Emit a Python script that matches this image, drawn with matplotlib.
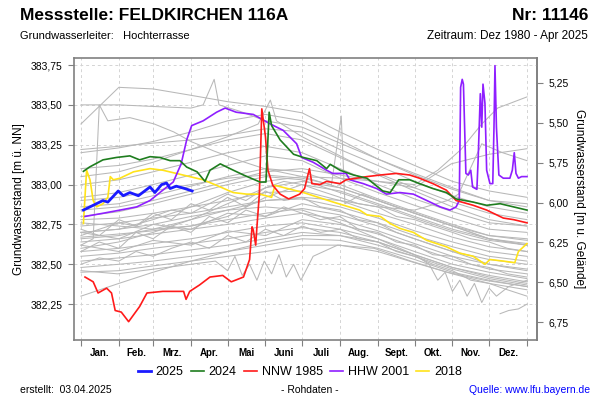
import matplotlib
matplotlib.use("Agg")
import matplotlib.pyplot as plt

plt.rcParams["font.family"] = ["Liberation Sans", "DejaVu Sans"]

# ground level used for the right-hand axis (m ü. NN)
GROUND = 388.8875

MONTH_EDGES = [0, 31, 59, 90, 120, 151, 181, 212, 243, 273, 304, 334, 365]
MONTH_LABELS = ["Jan.", "Feb.", "Mrz.", "Apr.", "Mai", "Juni", "Juli",
                "Aug.", "Sept.", "Okt.", "Nov.", "Dez."]
HALF_MONTHS = [0, 15, 31, 45, 59, 74, 90, 105, 120, 135, 151, 166, 181, 196, 212,
               227, 243, 258, 273, 288, 304, 319, 334, 349, 365]

LEVEL_TICKS = [382.25, 382.50, 382.75, 383.00, 383.25, 383.50, 383.75]
DEPTH_TICKS = [5.25, 5.50, 5.75, 6.00, 6.25, 6.50, 6.75]

# other years (grey), monthly values at MONTH_EDGES
GRAY_YEARS = [
    [383.38, 383.61, 383.60, 383.56, 383.52, 383.49, 383.45, 383.33, 383.22, 383.12, 383.02, 382.96, 382.92],
    [383.20, 383.23, 383.27, 383.33, 383.40, 383.44, 383.40, 383.28, 383.16, 383.06, 382.97, 382.90, 382.88],
    [383.22, 383.24, 383.26, 383.28, 383.31, 383.35, 383.33, 383.22, 383.12, 383.02, 382.93, 382.86, 382.82],
    [383.10, 383.12, 383.16, 383.22, 383.28, 383.32, 383.28, 383.17, 383.07, 382.98, 382.89, 382.82, 382.78],
    [383.00, 383.03, 383.08, 383.14, 383.20, 383.24, 383.20, 383.10, 383.00, 382.91, 382.83, 382.76, 382.74],
    [382.92, 382.95, 383.00, 383.06, 383.12, 383.18, 383.15, 383.04, 382.95, 382.87, 382.79, 382.72, 382.70],
    [382.86, 382.88, 382.93, 382.99, 383.05, 383.10, 383.08, 383.00, 382.91, 382.83, 382.75, 382.68, 382.66],
    [382.80, 382.83, 382.88, 382.94, 383.00, 383.05, 383.03, 382.95, 382.87, 382.79, 382.71, 382.65, 382.62],
    [382.78, 382.79, 382.82, 382.86, 382.90, 382.95, 382.96, 382.90, 382.82, 382.75, 382.67, 382.61, 382.58],
    [382.74, 382.76, 382.79, 382.82, 382.86, 382.90, 382.91, 382.86, 382.79, 382.71, 382.64, 382.58, 382.55],
    [382.70, 382.66, 382.75, 382.72, 382.82, 382.80, 382.88, 382.83, 382.76, 382.68, 382.61, 382.55, 382.52],
    [382.67, 382.69, 382.71, 382.74, 382.78, 382.82, 382.85, 382.81, 382.74, 382.66, 382.58, 382.53, 382.50],
    [382.64, 382.66, 382.69, 382.72, 382.75, 382.79, 382.82, 382.78, 382.71, 382.63, 382.55, 382.50, 382.47],
    [382.62, 382.58, 382.65, 382.62, 382.71, 382.68, 382.78, 382.75, 382.69, 382.61, 382.53, 382.47, 382.44],
    [382.58, 382.60, 382.63, 382.66, 382.70, 382.74, 382.76, 382.72, 382.66, 382.58, 382.50, 382.45, 382.41],
    [382.55, 382.57, 382.60, 382.63, 382.66, 382.70, 382.73, 382.70, 382.64, 382.56, 382.48, 382.43, 382.39],
    [382.52, 382.54, 382.56, 382.59, 382.62, 382.66, 382.70, 382.68, 382.62, 382.55, 382.47, 382.41, 382.37],
    [382.48, 382.50, 382.52, 382.55, 382.58, 382.62, 382.66, 382.65, 382.60, 382.53, 382.45, 382.40, 382.36],
    [382.45, 382.46, 382.49, 382.52, 382.55, 382.58, 382.62, 382.62, 382.58, 382.51, 382.44, 382.38, 382.34],
    [382.30, 382.38, 382.45, 382.52, 382.58, 382.64, 382.68, 382.68, 382.64, 382.56, 382.48, 382.42, 382.38],
    [382.76, 382.74, 382.72, 382.74, 382.80, 382.92, 383.00, 382.96, 382.88, 382.80, 382.72, 382.66, 382.63],
    [382.60, 382.64, 382.70, 382.78, 382.88, 382.98, 383.02, 382.98, 382.90, 382.82, 382.74, 382.68, 382.65],
]

# grey years with weekly-ish wobble, values at HALF_MONTHS
GRAY_WOBBLY = [
    [382.58, 382.64, 382.60, 382.70, 382.66, 382.74, 382.70, 382.80, 382.76, 382.84, 382.80, 382.86, 382.82,
     382.78, 382.80, 382.72, 382.70, 382.64, 382.62, 382.56, 382.55, 382.50, 382.48, 382.44, 382.42],
    [382.72, 382.68, 382.78, 382.74, 382.82, 382.78, 382.88, 382.84, 382.92, 382.86, 382.96, 382.90, 382.92,
     382.86, 382.84, 382.78, 382.76, 382.70, 382.66, 382.62, 382.58, 382.54, 382.50, 382.48, 382.46],
    [382.50, 382.54, 382.52, 382.58, 382.55, 382.60, 382.64, 382.60, 382.68, 382.64, 382.72, 382.68, 382.74,
     382.70, 382.72, 382.66, 382.64, 382.58, 382.55, 382.50, 382.46, 382.40, 382.38, 382.34, 382.30],
    [382.68, 382.72, 382.76, 382.74, 382.80, 382.84, 382.82, 382.88, 382.94, 382.90, 382.98, 383.02, 383.00,
     382.96, 382.92, 382.88, 382.86, 382.80, 382.78, 382.74, 382.70, 382.66, 382.64, 382.60, 382.58],
]

# grey years with spikes or a different course, own day lists
GRAY_EXTRA_DAYS = [
    [0, 10, 15, 22, 40, 60, 76, 90, 109, 130, 150, 181, 212, 243, 273, 304, 334, 365],
    [0, 31, 59, 90, 100, 109, 113, 130, 151, 181, 212, 243, 273, 304, 334, 365],
    [0, 31, 59, 90, 120, 151, 181, 205, 213, 216, 230, 243, 273, 304, 334, 365],
    [0, 31, 59, 90, 120, 145, 155, 160, 181, 212, 243, 273, 304, 334, 365],
    [0, 30, 60, 90, 110, 120, 126, 132, 138, 144, 150, 156, 162, 168, 174, 180, 190, 210, 240, 270, 300, 330, 365],
    [0, 31, 59, 90, 120, 151, 181, 212, 243, 273, 285, 292, 298, 304, 310, 316, 322, 328, 334, 340, 350, 365],
    [0, 31, 59, 90, 120, 151, 181, 212, 243, 273, 292, 311, 328, 341, 365],
    [0, 31, 59, 90, 120, 151, 181, 212, 243, 273, 303, 334, 365],
    [0, 31, 59, 90, 120, 151, 181, 212, 243, 273, 300, 309, 328, 345, 365],
    [343, 350, 358, 365],
]
GRAY_EXTRA_LEVELS = [
    [382.62, 382.66, 383.50, 383.40, 383.42, 383.38, 383.33, 383.27, 383.21, 383.15, 383.10, 383.05, 382.98, 382.90, 382.82, 382.74, 382.66, 382.62],
    [383.50, 383.50, 383.49, 383.48, 383.50, 383.66, 383.50, 383.46, 383.40, 383.36, 383.26, 383.16, 383.07, 382.98, 382.90, 382.86],
    [382.90, 382.92, 382.96, 383.00, 383.04, 383.06, 383.04, 383.00, 383.43, 382.88, 382.94, 382.90, 382.82, 382.74, 382.66, 382.62],
    [383.05, 383.08, 383.14, 383.22, 383.30, 383.38, 383.53, 383.40, 383.30, 383.18, 383.06, 382.96, 382.86, 382.78, 382.74],
    [382.46, 382.44, 382.47, 382.50, 382.52, 382.46, 382.55, 382.43, 382.50, 382.40, 382.52, 382.44, 382.56, 382.42, 382.50, 382.40, 382.55, 382.62, 382.60, 382.52, 382.45, 382.40, 382.36],
    [382.70, 382.72, 382.75, 382.80, 382.84, 382.86, 382.84, 382.76, 382.66, 382.56, 382.50, 382.40, 382.45, 382.33, 382.40, 382.30, 382.38, 382.26, 382.35, 382.30, 382.36, 382.40],
    [382.70, 382.72, 382.78, 382.86, 382.95, 383.02, 383.05, 383.04, 383.02, 383.00, 383.09, 383.22, 383.38, 383.48, 383.55],
    [382.84, 382.86, 382.90, 382.96, 383.02, 383.08, 383.10, 383.06, 383.02, 382.98, 383.13, 383.19, 383.225],
    [382.66, 382.68, 382.72, 382.78, 382.84, 382.90, 382.92, 382.90, 382.86, 382.84, 382.90, 382.94, 383.256, 383.20, 383.15],
    [382.19, 382.21, 382.22, 382.25],
]

# highlighted years
Y2025_DAYS = [2, 10, 18, 22, 30.5, 34.6, 40, 47, 56.5, 60.5, 66, 70, 73, 78, 85, 91]
Y2025_LEVELS = [382.84, 382.87, 382.90, 382.89, 382.96, 382.93, 382.95, 382.93, 382.985, 382.95, 383.00, 383.01, 382.975, 382.99, 382.975, 382.96]

Y2024_DAYS = [2, 7, 18, 29, 40, 48, 56.5, 64.6, 73, 81, 86.5, 95, 101.5, 105.6, 114, 122, 133, 146.5, 151.4,
              154, 156, 163, 174, 182, 193, 201, 204, 212, 223, 234, 247, 253, 260, 269, 277, 288, 299, 307,
              321, 332, 343, 354, 365]
Y2024_LEVELS = [383.083, 383.11, 383.155, 383.17, 383.18, 383.155, 383.175, 383.17, 383.15, 383.15, 383.11, 383.08,
                383.02, 383.09, 383.13, 383.10, 383.06, 383.016, 383.016, 383.454, 383.37, 383.28, 383.19, 383.17,
                383.15, 383.10, 383.127, 383.09, 383.06, 383.04, 382.96, 382.95, 383.03, 383.03, 383.006, 382.975,
                382.95, 382.91, 382.89, 382.87, 382.88, 382.86, 382.84]

NNW1985_DAYS = [3.3, 10, 14, 21, 25, 28, 33, 39, 48, 54, 67, 84, 86, 89, 97, 105.6, 116, 123, 133, 138, 140, 141,
                143, 144, 146, 148, 151, 153, 157, 163, 170, 179, 183, 187, 189, 195.5, 201, 212, 217, 234, 245,
                258, 269, 277, 288, 299, 307, 321, 332, 345.6, 354, 365]
NNW1985_LEVELS = [382.42, 382.39, 382.32, 382.35, 382.32, 382.21, 382.20, 382.14, 382.235, 382.32, 382.33, 382.33,
                  382.28, 382.33, 382.37, 382.42, 382.43, 382.39, 382.42, 382.53, 382.735, 382.715, 382.62, 382.735,
                  382.94, 383.475, 383.30, 383.09, 382.995, 382.94, 382.91, 382.94, 382.975, 383.10, 383.006, 383.00,
                  383.02, 383.006, 383.03, 383.05, 383.06, 383.07, 383.06, 383.04, 383.006, 382.965, 382.90, 382.87,
                  382.84, 382.79, 382.78, 382.76]

HHW2001_DAYS = [3.3, 18, 32, 45.6, 56.5, 67, 75.5, 82, 86.5, 90.6, 100, 111, 118, 127, 141, 155, 165.5, 176.5,
                180.6, 190, 201, 206, 217, 220, 231, 242, 250, 261, 272, 283, 294, 302, 307, 309.6, 310.7, 312,
                313, 315, 317, 319, 320.5, 324, 325, 326.8, 328, 329, 330.6, 332, 334.7, 337, 338, 338.8, 340,
                342, 345.6, 351, 353, 354.6, 356, 358, 360.6, 365]
HHW2001_LEVELS = [382.80, 382.82, 382.84, 382.86, 382.90, 382.965, 383.016, 383.13, 383.28, 383.37, 383.40,
                  383.454, 383.48, 383.454, 383.44, 383.38, 383.34, 383.256, 383.17, 383.14, 383.09, 383.07,
                  383.07, 383.03, 383.006, 382.975, 382.94, 382.95, 382.94, 382.90, 382.86, 382.84, 382.86,
                  382.90, 383.61, 383.66, 383.63, 383.07, 383.06, 383.09, 382.985, 382.97, 383.15, 383.57,
                  383.36, 383.63, 383.51, 383.09, 383.006, 383.006, 383.36, 383.746, 383.36, 383.06, 383.04,
                  383.04, 383.09, 383.20, 383.07, 383.04, 383.05, 383.05]

Y2018_DAYS = [2, 4.6, 7.4, 10, 12.8, 18, 22, 24, 26.5, 32, 43, 56.5, 67, 78, 89, 100, 111, 124.6, 135.6, 146.5,
              156, 158.8, 182, 206.5, 228, 234, 245, 253, 261, 272, 283, 299, 310, 321, 330.6, 334.7, 345.6, 355,
              358, 365]
Y2018_LEVELS = [382.756, 383.09, 383.03, 382.90, 382.86, 382.88, 382.92, 383.05, 383.03, 383.04, 383.08, 383.10,
                383.09, 383.07, 383.05, 383.03, 382.995, 382.95, 382.94, 382.94, 382.92, 382.995, 382.95, 382.89,
                382.84, 382.81, 382.80, 382.756, 382.725, 382.70, 382.65, 382.61, 382.57, 382.55, 382.50, 382.53,
                382.52, 382.51, 382.58, 382.63]

SPINE = "#808080"
GRID = "#d4d4d4"
GRAY_LINE = "#b8b8b8"


def level_to_depth(v):
    return GROUND - v


def depth_to_level(d):
    return GROUND - d


def fmt(v):
    return f"{v:.2f}".replace(".", ",")


fig = plt.figure(figsize=(6, 4), dpi=100)
ax = fig.add_axes([74 / 600, 60 / 400, 463 / 600, 282 / 400])

for vals in GRAY_YEARS:
    ax.plot(MONTH_EDGES, vals, color=GRAY_LINE, lw=0.75)
for vals in GRAY_WOBBLY:
    ax.plot(HALF_MONTHS, vals, color=GRAY_LINE, lw=0.75)
for days, vals in zip(GRAY_EXTRA_DAYS, GRAY_EXTRA_LEVELS):
    ax.plot(days, vals, color=GRAY_LINE, lw=0.75)

ax.plot(Y2018_DAYS, Y2018_LEVELS, color="#ffe31a", lw=1.2, label="2018")
ax.plot(HHW2001_DAYS, HHW2001_LEVELS, color="#8f1fff", lw=1.2, label="HHW 2001")
ax.plot(NNW1985_DAYS, NNW1985_LEVELS, color="#ff1a1a", lw=1.2, label="NNW 1985")
ax.plot(Y2024_DAYS, Y2024_LEVELS, color="#1e7d1e", lw=1.2, label="2024")
ax.plot(Y2025_DAYS, Y2025_LEVELS, color="#1a1aff", lw=2.0, label="2025")

ax.set_xlim(-5.7, 373.2)
ax.set_ylim(382.025, 383.794)

# month borders as ticks, month names in between
ax.set_xticks(MONTH_EDGES)
ax.set_xticklabels([])
mids = [(a + b) / 2 for a, b in zip(MONTH_EDGES[:-1], MONTH_EDGES[1:])]
ax.set_xticks(mids, minor=True)
ax.set_xticklabels(MONTH_LABELS, minor=True, fontsize=7, fontweight="bold")
ax.tick_params(axis="x", which="major", length=4, color=SPINE, direction="out")
ax.tick_params(axis="x", which="minor", length=0, pad=6)

ax.set_yticks(LEVEL_TICKS)
ax.set_yticklabels([fmt(v) for v in LEVEL_TICKS], fontsize=7.5)
ax.tick_params(axis="y", length=4, color=SPINE, direction="out", pad=4)

ax.grid(True, which="major", color=GRID, lw=0.7, ls=(0, (3, 3)))
ax.set_axisbelow(True)
for s in ax.spines.values():
    s.set_color(SPINE)
    s.set_linewidth(1.2)

ax.set_ylabel("Grundwasserstand [m ü. NN]", fontsize=8.5, labelpad=4)

sec = ax.secondary_yaxis("right", functions=(level_to_depth, depth_to_level))
sec.set_yticks(DEPTH_TICKS)
sec.set_yticklabels([fmt(v) for v in DEPTH_TICKS], fontsize=7.5)
sec.tick_params(length=4, color=SPINE, direction="out", pad=4)
sec.spines["right"].set_color(SPINE)
sec.spines["right"].set_linewidth(1.2)
sec.set_ylabel("Grundwasserstand [m u. Gelände]", fontsize=8.5, rotation=270, labelpad=12)

# header
fig.text(20 / 600, 1 - 15 / 400, "Messstelle: FELDKIRCHEN 116A", fontsize=12.5,
         fontweight="bold", ha="left", va="center")
fig.text(588 / 600, 1 - 15 / 400, "Nr: 11146", fontsize=12.5, fontweight="bold",
         ha="right", va="center")
fig.text(20 / 600, 1 - 36 / 400, "Grundwasserleiter:   Hochterrasse", fontsize=8,
         ha="left", va="center")
fig.text(588 / 600, 1 - 36 / 400, "Zeitraum: Dez 1980 - Apr 2025", fontsize=8.5,
         ha="right", va="center")

# legend in fixed order
handles, labels = ax.get_legend_handles_labels()
order = ["2025", "2024", "NNW 1985", "HHW 2001", "2018"]
hmap = dict(zip(labels, handles))
fig.legend([hmap[k] for k in order], order, loc="center", ncol=5,
           bbox_to_anchor=(300 / 600, 1 - 372 / 400), frameon=False, fontsize=9,
           handlelength=1.0, handletextpad=0.4, columnspacing=0.6)

# footer
fig.text(20 / 600, 1 - 390 / 400, "erstellt:  03.04.2025", fontsize=7.5, ha="left", va="center")
fig.text(310 / 600, 1 - 390 / 400, "- Rohdaten -", fontsize=7.5, ha="center", va="center")
fig.text(590 / 600, 1 - 390 / 400, "Quelle: www.lfu.bayern.de", fontsize=7.5, color="#0000ff",
         ha="right", va="center")

fig.savefig("out.png", dpi=100)
